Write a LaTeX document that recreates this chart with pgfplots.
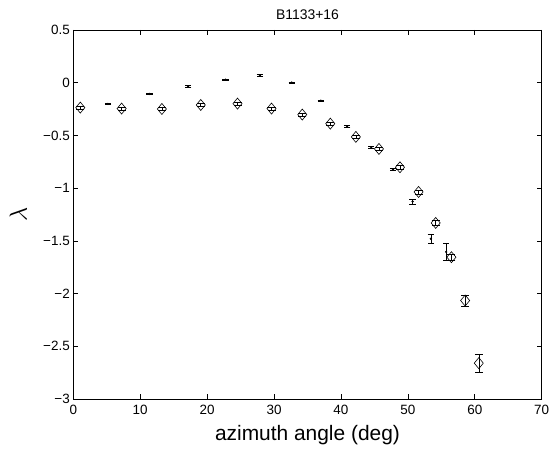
\documentclass[border=0pt]{standalone}
\usepackage{fontspec}
\setmainfont{Liberation Sans}
\usepackage{pgfplots}
\pgfplotsset{compat=1.18}
\pgfplotstableread{
x y e
1.05 -0.236 0.012
7.22 -0.245 0.012
13.24 -0.249 0.012
19.05 -0.211 0.012
24.54 -0.198 0.012
29.62 -0.245 0.012
34.22 -0.302 0.012
38.41 -0.388 0.013
42.23 -0.514 0.014
45.68 -0.628 0.015
48.82 -0.802 0.017
51.60 -1.036 0.020
54.16 -1.330 0.025
56.51 -1.655 0.030
58.56 -2.066 0.050
60.60 -2.660 0.085
}\diam
\pgfplotstableread{
x y e
5.18 -0.201 0.008
11.36 -0.106 0.008
17.16 -0.034 0.008
22.76 0.029 0.008
27.89 0.070 0.008
32.65 0.001 0.006
37.00 -0.170 0.007
40.92 -0.416 0.008
44.53 -0.612 0.008
47.78 -0.824 0.010
50.71 -1.127 0.022
53.43 -1.480 0.042
55.73 -1.605 0.084
}\dots
\begin{document}
\begin{tikzpicture}
\begin{axis}[
  at={(0,0)}, anchor=south west,
  scale only axis, width=468.4bp, height=369bp,
  xmin=0, xmax=70, ymin=-3, ymax=0.5,
  xtick={0,10,20,30,40,50,60,70},
  xticklabels={0,10,20,30,40,50,60,70},
  ytick={-3,-2.5,-2,-1.5,-1,-0.5,0,0.5},
  yticklabels={−3,−2.5,−2,−1.5,−1,−0.5,0,0.5},
  tick align=inside, major tick length=5bp,
  xtick pos=both, ytick pos=both,
  axis line style={line width=0.7bp},
  every tick/.style={black, line width=0.6bp},
  ticklabel style={font=\fontsize{13.5}{16}\selectfont},
  xticklabel style={yshift=-3bp},
  title={B1133+16},
  title style={at={(axis description cs:0.5,1)}, anchor=base, yshift=4.7bp, font=\fontsize{14}{16}\selectfont, inner sep=0pt},
  xlabel={azimuth angle (deg)},
  xlabel style={at={(axis description cs:0.5,0)}, anchor=base, yshift=-41bp, font=\fontsize{21}{24}\selectfont, inner sep=0pt},
  ylabel={$\lambda$},
  ylabel style={at={(axis description cs:0,0.5)}, anchor=center, yshift=55bp, font=\fontsize{24}{26}\selectfont, inner sep=0pt},
]
\addplot[black, only marks, mark=diamond, mark size=5.5bp,
  mark options={xscale=1.1, line width=0.6bp, fill=none},
  error bars/.cd, y dir=both, y explicit,
  error bar style={line width=0.6bp},
  error mark options={rotate=90, mark size=4bp, line width=0.6bp}]
  table[x=x, y=y, y error=e] {\diam};
\addplot[black, only marks, mark=*, mark size=0.9bp,
  error bars/.cd, y dir=both, y explicit,
  error bar style={line width=0.6bp},
  error mark options={rotate=90, mark size=3.2bp, line width=0.6bp}]
  table[x=x, y=y, y error=e] {\dots};
\end{axis}
\pgfresetboundingbox
\useasboundingbox (-73.3bp,-50bp) rectangle (475.7bp,399bp);
\end{tikzpicture}
\end{document}
